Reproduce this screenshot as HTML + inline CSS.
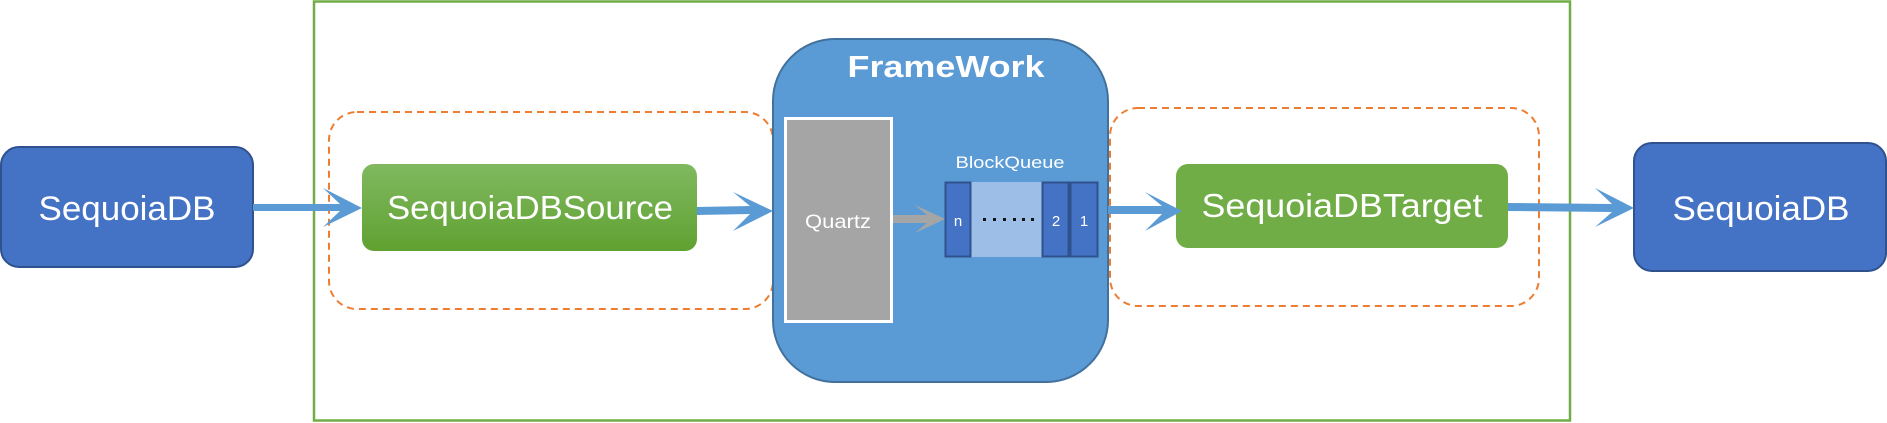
<!DOCTYPE html>
<html><head><meta charset="utf-8"><style>html,body{margin:0;padding:0;background:#fff}svg{display:block}</style></head>
<body>
<svg width="1887" height="423" viewBox="0 0 1887 423" xmlns="http://www.w3.org/2000/svg" font-family="Liberation Sans, sans-serif">
<defs>
<linearGradient id="g1" x1="0" y1="0" x2="0" y2="1"><stop offset="0" stop-color="#80b960"/><stop offset="1" stop-color="#60a131"/></linearGradient>
</defs>
<rect x="314" y="1.5" width="1256" height="419" fill="none" stroke="#70ad47" stroke-width="2.5"/>
<!-- dashed groups -->
<rect x="329" y="112" width="444" height="197" rx="28" fill="none" stroke="#ed7d31" stroke-width="2" stroke-dasharray="7,5"/>
<rect x="1110" y="108" width="429" height="198" rx="28" fill="none" stroke="#ed7d31" stroke-width="2" stroke-dasharray="7,5"/>
<!-- left DB -->
<rect x="1" y="147" width="252" height="120" rx="18" fill="#4472c4" stroke="#2f528f" stroke-width="2"/>
<text x="127" y="220" fill="#fff" font-size="34" text-anchor="middle" textLength="177" lengthAdjust="spacingAndGlyphs">SequoiaDB</text>
<!-- right DB -->
<rect x="1634" y="143" width="252" height="128" rx="18" fill="#4472c4" stroke="#2f528f" stroke-width="2"/>
<text x="1761" y="220" fill="#fff" font-size="34" text-anchor="middle" textLength="177" lengthAdjust="spacingAndGlyphs">SequoiaDB</text>
<!-- framework -->
<rect x="773" y="39" width="335" height="343" rx="62" fill="#5b9bd5" stroke="#41719c" stroke-width="2"/>
<text x="946" y="77" fill="#fff" font-size="31" font-weight="bold" text-anchor="middle" textLength="197" lengthAdjust="spacingAndGlyphs">FrameWork</text>
<!-- source / target -->
<rect x="362" y="164" width="335" height="87" rx="12" fill="url(#g1)"/>
<text x="530" y="219" fill="#fff" font-size="33" text-anchor="middle" textLength="286" lengthAdjust="spacingAndGlyphs">SequoiaDBSource</text>
<rect x="1176" y="164" width="332" height="84" rx="12" fill="#70ad47"/>
<text x="1342" y="217" fill="#fff" font-size="33" text-anchor="middle" textLength="281" lengthAdjust="spacingAndGlyphs">SequoiaDBTarget</text>
<!-- Quartz -->
<rect x="785.5" y="118.5" width="106" height="203" fill="#a5a5a5" stroke="#fff" stroke-width="3"/>
<text x="838" y="228" fill="#fff" font-size="19" text-anchor="middle" textLength="66" lengthAdjust="spacingAndGlyphs">Quartz</text>
<!-- queue -->
<text x="1010" y="168" fill="#fff" font-size="17" text-anchor="middle" textLength="109" lengthAdjust="spacingAndGlyphs">BlockQueue</text>
<rect x="971" y="182" width="71" height="75" fill="#9dbee6"/>
<rect x="945.5" y="182.5" width="25" height="74" fill="#4472c4" stroke="#2f528f" stroke-width="2"/>
<rect x="1042.5" y="182.5" width="26" height="74" fill="#4472c4" stroke="#2f528f" stroke-width="2"/>
<rect x="1070.5" y="182.5" width="27" height="74" fill="#4472c4" stroke="#2f528f" stroke-width="2"/>
<text x="958" y="226" fill="#fff" font-size="15" text-anchor="middle">n</text>
<text x="1056" y="226" fill="#fff" font-size="15" text-anchor="middle">2</text>
<text x="1084" y="226" fill="#fff" font-size="15" text-anchor="middle">1</text>
<g fill="#111"><rect x="983" y="218" width="3" height="3"/><rect x="993" y="218" width="3" height="3"/><rect x="1003" y="218" width="3" height="3"/><rect x="1013" y="218" width="3" height="3"/><rect x="1022" y="218" width="3" height="3"/><rect x="1031" y="218" width="3" height="3"/></g>
<!-- arrows -->
<g fill="#5b9bd5">
<path d="M253 204 L340 204 L323 188 L362 208 L323 227 L340 211 L253 211 Z"/>
<path d="M697 207 L750 206 L733 192 L773 211 L733 231 L750 214 L697 215 Z"/>
<path d="M1108 206 L1162 206 L1145 192 L1182 211 L1145 231 L1162 214 L1108 214 Z"/>
<path d="M1508 203 L1612 204 L1595 188 L1634 208 L1595 227 L1612 212 L1508 211 Z"/>
</g>
<path d="M893 215 L927 215 L915 205 L945 219 L915 233 L927 223 L893 223 Z" fill="#a5a5a5"/>
</svg>
</body></html>
